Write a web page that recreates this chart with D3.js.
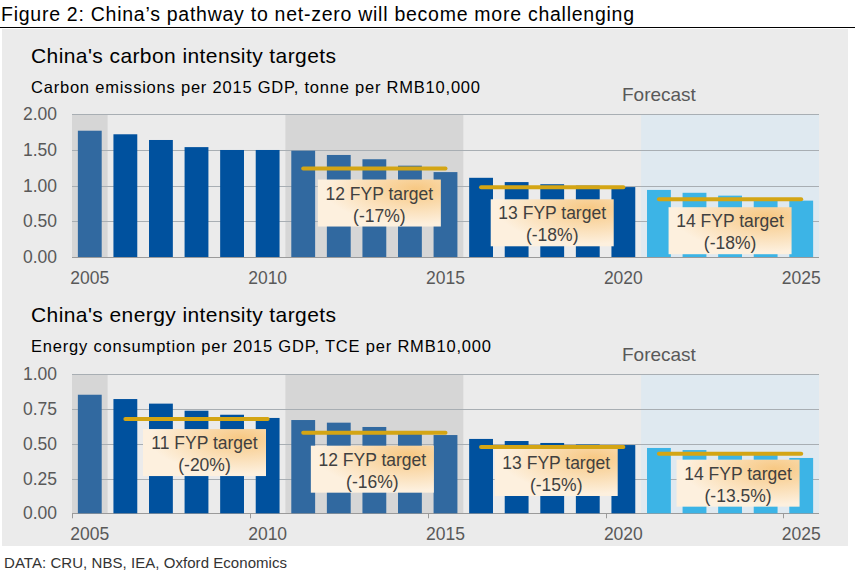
<!DOCTYPE html>
<html>
<head>
<meta charset="utf-8">
<script src="https://cdn.jsdelivr.net/npm/d3@7"></script>
<style>
  body { margin: 0; background: #fff; }
  text { font-family: "Liberation Sans", Arial, sans-serif; }
</style>
</head>
<body>
<svg width="855" height="574"></svg>
<script>
// ---- data ----
var years = d3.range(2005, 2026);
var carbonValues = [1.77, 1.72, 1.64, 1.54, 1.50, 1.50, 1.49, 1.43, 1.37, 1.28, 1.19,
                    1.11, 1.05, 1.02, 1.00, 0.98, 0.94, 0.90, 0.86, 0.82, 0.79];
var energyValues = [0.853, 0.822, 0.789, 0.738, 0.709, 0.686, 0.671, 0.652, 0.621, 0.59, 0.563,
                    0.535, 0.52, 0.506, 0.495, 0.491, 0.47, 0.455, 0.44, 0.42, 0.398];
var carbonTicks = [0, 0.5, 1, 1.5, 2];
var energyTicks = [0, 0.25, 0.5, 0.75, 1];
var xTickYears = [2005, 2010, 2015, 2020, 2025];
// shaded periods (first/last year)
var shadePeriods = [
  { from: 2005, to: 2005, kind: "plan" },
  { from: 2011, to: 2015, kind: "plan" },
  { from: 2021, to: 2025, kind: "forecast" }
];
var carbonTargets = [
  { name: "12 FYP target", pct: "(-17%)", from: 2011, to: 2015, value: 1.24 },
  { name: "13 FYP target", pct: "(-18%)", from: 2016, to: 2020, value: 0.977 },
  { name: "14 FYP target", pct: "(-18%)", from: 2021, to: 2025, value: 0.81 }
];
var energyTargets = [
  { name: "11 FYP target", pct: "(-20%)", from: 2006, to: 2010, value: 0.678 },
  { name: "12 FYP target", pct: "(-16%)", from: 2011, to: 2015, value: 0.58 },
  { name: "13 FYP target", pct: "(-15%)", from: 2016, to: 2020, value: 0.477 },
  { name: "14 FYP target", pct: "(-13.5%)", from: 2021, to: 2025, value: 0.429 }
];

// label box nudges (px) relative to the target line
var carbonBoxOffsets = [[5, 11], [0, 12], [0, 8]];
var energyBoxOffsets = [[8, 10], [-2, 13], [4, 2], [8, 6]];

var svg = d3.select("svg");

// page frame
svg.append("text").attr("x", 1).attr("y", 21).attr("font-size", "19.5px").attr("fill", "#000")
  .attr("textLength", 633).attr("lengthAdjust", "spacing")
  .text("Figure 2: China\u2019s pathway to net-zero will become more challenging");
svg.append("line").attr("x1", 0).attr("x2", 855).attr("y1", 27.5).attr("y2", 27.5)
  .attr("stroke", "#000").attr("stroke-width", 1);
svg.append("rect").attr("x", 2).attr("y", 29).attr("width", 846).attr("height", 517).attr("fill", "#ebebeb");
svg.append("text").attr("x", 4).attr("y", 568).attr("font-size", "15px").attr("fill", "#333")
  .attr("textLength", 283).attr("lengthAdjust", "spacing")
  .text("DATA: CRU, NBS, IEA, Oxford Economics");

var defs = svg.append("defs");
var grad = defs.append("radialGradient").attr("id", "boxfill")
  .attr("cx", "0.8").attr("cy", "0.2").attr("r", "0.75");
grad.append("stop").attr("offset", "0%").attr("stop-color", "#f7c883");
grad.append("stop").attr("offset", "100%").attr("stop-color", "#fdf0de");

var x = d3.scaleBand().domain(years).range([72, 819]).padding(0);
var barW = x.bandwidth() * 0.67;
var cx = function (yr) { return x(yr) + x.step() / 2; };

function kindOf(year) {
  var p = shadePeriods.find(function (s) { return year >= s.from && year <= s.to; });
  return p ? p.kind : "base";
}
var barColor = { plan: "#3169a0", base: "#00519e", forecast: "#3cb4e6" };
var shadeColor = { plan: "#d6d6d6", forecast: "#dfe9f0" };

function drawPanel(opt) {
  var g = svg.append("g");
  var y = d3.scaleLinear().domain([0, opt.ticks[opt.ticks.length - 1]]).range([opt.bottom, opt.top]);

  g.append("text").attr("x", 31).attr("y", opt.titleY).attr("font-size", "21px").attr("fill", "#000")
    .attr("textLength", 305).attr("lengthAdjust", "spacing").text(opt.title);
  g.append("text").attr("x", 31).attr("y", opt.titleY + 30).attr("font-size", "16.5px").attr("fill", "#000")
    .attr("textLength", opt.subtitleLen).attr("lengthAdjust", "spacing").text(opt.subtitle);

  g.selectAll("rect.shade").data(shadePeriods).enter().append("rect")
    .attr("x", function (d) { return x(d.from); })
    .attr("width", function (d) { return x(d.to) + x.step() - x(d.from); })
    .attr("y", y.range()[1]).attr("height", y.range()[0] - y.range()[1])
    .attr("fill", function (d) { return shadeColor[d.kind]; });

  g.append("text").attr("x", cx(2021)).attr("y", y.range()[1] - 13)
    .attr("text-anchor", "middle").attr("font-size", "19px").attr("fill", "#595959").text("Forecast");

  // gridlines
  g.selectAll("line.grid").data(opt.ticks).enter().append("line")
    .attr("x1", x.range()[0]).attr("x2", x.range()[1])
    .attr("y1", function (d) { return Math.round(y(d)) + 0.5; })
    .attr("y2", function (d) { return Math.round(y(d)) + 0.5; })
    .attr("stroke", function (d) { return d === 0 ? "#9a9a9a" : "#a8aeb3"; }).attr("stroke-width", 1);

  g.selectAll("text.ytick").data(opt.ticks).enter().append("text")
    .attr("x", 57).attr("y", function (d) { return y(d) + 6; })
    .attr("text-anchor", "end").attr("font-size", "17.5px").attr("fill", "#595959")
    .text(function (d) { return d3.format(".2f")(d); });

  // bars
  g.selectAll("rect.bar").data(opt.values).enter().append("rect")
    .attr("x", function (d, i) { return x(years[i]) + (x.step() - barW) / 2; })
    .attr("width", barW)
    .attr("y", function (d) { return y(d); })
    .attr("height", function (d) { return y(0) - y(d); })
    .attr("fill", function (d, i) { return barColor[kindOf(years[i])]; });

  if (opt.tickMarks) {
    g.selectAll("line.xt").data(xTickYears).enter().append("line")
      .attr("x1", function (d) { return Math.round(x(d)) + 0.5; })
      .attr("x2", function (d) { return Math.round(x(d)) + 0.5; })
      .attr("y1", y(0)).attr("y2", y(0) + 5).attr("stroke", "#9a9a9a");
  }
  g.selectAll("text.xtick").data(xTickYears).enter().append("text")
    .attr("x", function (d) { return cx(d); }).attr("y", y(0) + 27)
    .attr("text-anchor", "middle").attr("font-size", "17.5px").attr("fill", "#595959")
    .text(function (d) { return d; });

  // target lines
  g.selectAll("line.target").data(opt.targets).enter().append("line")
    .attr("x1", function (d) { return cx(d.from); }).attr("x2", function (d) { return cx(d.to); })
    .attr("y1", function (d) { return y(d.value); }).attr("y2", function (d) { return y(d.value); })
    .attr("stroke", "#d4a514").attr("stroke-width", 4).attr("stroke-linecap", "round");

  var boxW = 123, boxH = 47;
  var lab = g.selectAll("g.lab").data(opt.targets).enter().append("g")
    .attr("transform", function (d, i) {
      var mx = (cx(d.from) + cx(d.to)) / 2 + opt.offsets[i][0];
      var ty = y(d.value) + opt.offsets[i][1];
      return "translate(" + (mx - boxW / 2) + "," + ty + ")";
    });
  lab.append("rect").attr("width", boxW).attr("height", boxH).attr("fill", "url(#boxfill)");
  lab.append("text").attr("x", boxW / 2).attr("y", 20).attr("text-anchor", "middle")
    .attr("font-size", "17.5px").attr("fill", "#404040").text(function (d) { return d.name; });
  lab.append("text").attr("x", boxW / 2).attr("y", 42).attr("text-anchor", "middle")
    .attr("font-size", "17.5px").attr("fill", "#404040").text(function (d) { return d.pct; });
}

drawPanel({
  title: "China's carbon intensity targets",
  subtitle: "Carbon emissions per 2015 GDP, tonne per RMB10,000", subtitleLen: 449,
  titleY: 63, top: 114.3, bottom: 257,
  ticks: carbonTicks, values: carbonValues, targets: carbonTargets,
  offsets: carbonBoxOffsets, tickMarks: false
});
drawPanel({
  title: "China's energy intensity targets",
  subtitle: "Energy consumption per 2015 GDP, TCE per RMB10,000", subtitleLen: 460,
  titleY: 322, top: 374.3, bottom: 513.3,
  ticks: energyTicks, values: energyValues, targets: energyTargets,
  offsets: energyBoxOffsets, tickMarks: true
});
</script>
</body>
</html>
